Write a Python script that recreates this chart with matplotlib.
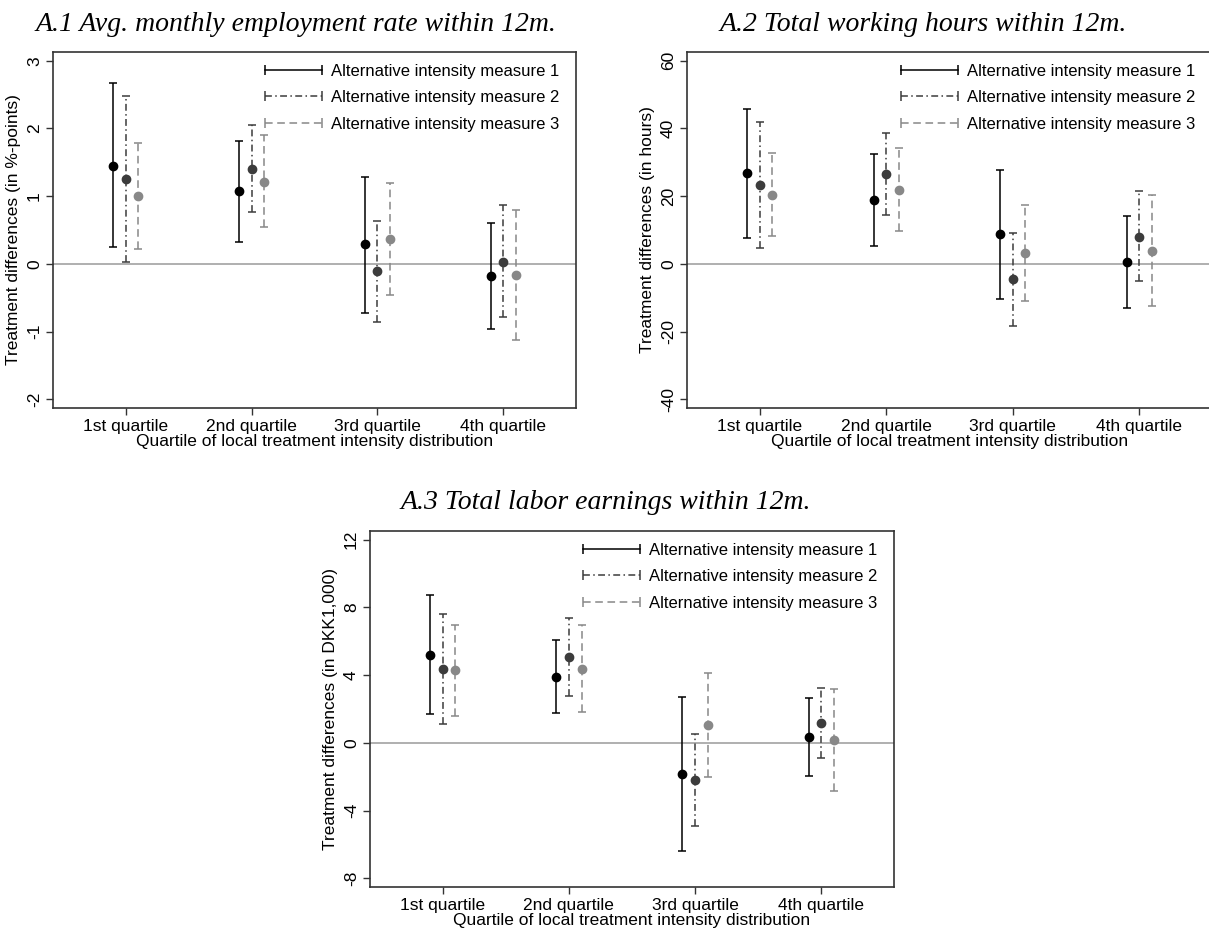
import numpy as np
import matplotlib.pyplot as plt
from matplotlib.lines import Line2D

plt.rcParams['font.family'] = ['Liberation Sans', 'DejaVu Sans']

quartiles = ['1st quartile', '2nd quartile', '3rd quartile', '4th quartile']
measures = ['Alternative intensity measure 1', 'Alternative intensity measure 2',
            'Alternative intensity measure 3']

# point estimates and 95% bounds, rows = measure 1..3, cols = quartile 1..4
emp_est = [[1.45, 1.07, 0.29, -0.18], [1.25, 1.40, -0.11, 0.03], [1.00, 1.21, 0.36, -0.16]]
emp_lo = [[0.25, 0.33, -0.72, -0.96], [0.03, 0.76, -0.86, -0.79], [0.22, 0.54, -0.46, -1.12]]
emp_hi = [[2.67, 1.82, 1.29, 0.60], [2.48, 2.05, 0.64, 0.87], [1.78, 1.90, 1.19, 0.80]]

hrs_est = [[26.7, 19.0, 8.7, 0.4], [23.3, 26.5, -4.6, 8.0], [20.4, 21.7, 3.2, 3.8]]
hrs_lo = [[7.7, 5.3, -10.3, -13.1], [4.8, 14.4, -18.3, -5.2], [8.3, 9.6, -10.9, -12.6]]
hrs_hi = [[45.8, 32.6, 27.8, 14.0], [42.0, 38.8, 9.1, 21.4], [32.7, 34.1, 17.3, 20.4]]

earn_est = [[5.19, 3.91, -1.85, 0.34], [4.34, 5.07, -2.19, 1.18], [4.28, 4.38, 1.05, 0.16]]
earn_lo = [[1.70, 1.76, -6.37, -1.95], [1.10, 2.76, -4.91, -0.87], [1.60, 1.81, -1.99, -2.86]]
earn_hi = [[8.74, 6.06, 2.68, 2.64], [7.59, 7.40, 0.55, 3.23], [6.98, 6.98, 4.10, 3.18]]

colors = ['#000000', '#3c3c3c', '#888888']
styles = ['solid', (0, (4.5, 2.2, 1.0, 2.2)), (0, (5.0, 3.0))]
offsets = [-0.1, 0.0, 0.1]

W, H = 1209, 935
fig = plt.figure(figsize=(W / 100, H / 100), dpi=100)


def px_axes(left, top, width, height):
    return fig.add_axes([left / W, 1 - (top + height) / H, width / W, height / H])


def panel(ax, est, lo, hi, ylim, yticks, ylabel):
    x = np.arange(1, 5)
    ax.axhline(0, color='#9a9a9a', lw=1.1, zorder=1)
    for k in range(3):
        e = np.array(est[k])
        yerr = [e - np.array(lo[k]), np.array(hi[k]) - e]
        cont = ax.errorbar(x + offsets[k], e, yerr=yerr, fmt='o', color=colors[k],
                           ms=6, capsize=2.7, elinewidth=1.1, capthick=1.1, zorder=3)
        cont[2][0].set_linestyle(styles[k])
    ax.set_xlim(0.424, 4.576)
    ax.set_ylim(*ylim)
    ax.set_xticks(x)
    ax.set_xticklabels(quartiles, fontsize=12.5)
    ax.set_yticks(yticks)
    ax.set_yticklabels([str(t) for t in yticks], fontsize=12.5, rotation=90, va='center')
    ax.set_ylabel(ylabel, fontsize=12.5, labelpad=4)
    ax.set_xlabel('Quartile of local treatment intensity distribution', fontsize=12.5, labelpad=0)
    ax.tick_params(direction='out', length=5, width=1, color='#333333', pad=3)
    for s in ax.spines.values():
        s.set_linewidth(1.2)
        s.set_color('#333333')
    handles = [Line2D([], [], color=colors[k], lw=1.1, ls=styles[k], marker='|', ms=7, mew=1.1)
               for k in range(3)]
    ax.legend(handles, measures, loc='upper right', frameon=False, fontsize=12,
              numpoints=2, handlelength=4.0, handletextpad=0.25, labelspacing=0.7,
              borderaxespad=0.3, bbox_to_anchor=(0.99, 1.0))


ax1 = px_axes(53, 52, 523, 356)
panel(ax1, emp_est, emp_lo, emp_hi, (-2.13, 3.13), [-2, -1, 0, 1, 2, 3],
      'Treatment differences (in %-points)')

ax2 = px_axes(687, 52, 525, 356)
panel(ax2, hrs_est, hrs_lo, hrs_hi, (-42.6, 62.6), [-40, -20, 0, 20, 40, 60],
      'Treatment differences (in hours)')

ax3 = px_axes(370, 531, 524, 356)
panel(ax3, earn_est, earn_lo, earn_hi, (-8.52, 12.52), [-8, -4, 0, 4, 8, 12],
      'Treatment differences (in DKK1,000)')

tfont = dict(family='Liberation Serif', style='italic', fontsize=20, ha='center', va='baseline')
fig.text(296 / W, 1 - 31 / H, 'A.1 Avg. monthly employment rate within 12m.', **tfont)
fig.text(923 / W, 1 - 31 / H, 'A.2 Total working hours within 12m.', **tfont)
fig.text(606 / W, 1 - 509 / H, 'A.3 Total labor earnings within 12m.', **tfont)

fig.savefig('out.png', dpi=100)
